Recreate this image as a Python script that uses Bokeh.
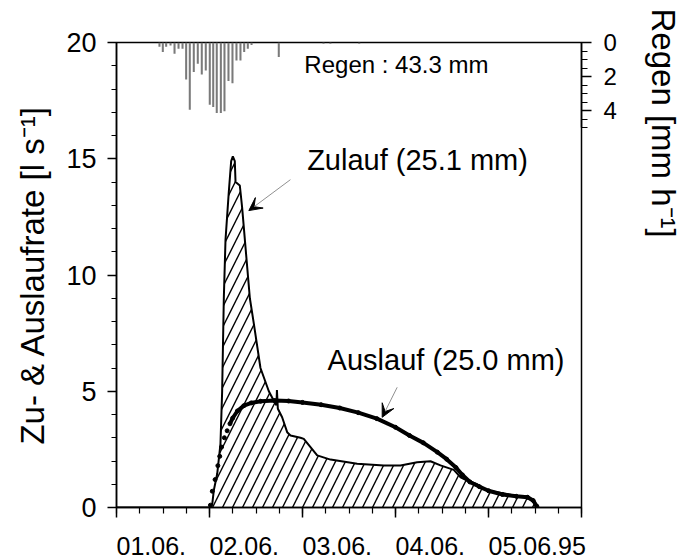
from bokeh.plotting import figure
from bokeh.models import (Range1d, LinearAxis, FixedTicker, Label, Arrow, VeeHead, Title)
from bokeh.embed import file_html
from bokeh.resources import INLINE

# ---------------- data (x in days since 01.06.95 00:00) ----------------
day_ticks = [0, 1, 2, 3, 4]
day_labels = ["01.06.", "02.06.", "03.06.", "04.06.", "05.06.95"]

rain_x = [0.462, 0.498, 0.534, 0.581, 0.624, 0.667, 0.710, 0.749, 0.788, 0.831,
          0.874, 0.917, 0.960, 1.003, 1.040, 1.078, 1.122, 1.161, 1.204, 1.247,
          1.290, 1.333, 1.373, 1.412, 1.452, 1.745, 2.226, 2.300, 2.610]
rain_mm_h = [0.25, 0.56, 0.25, 0.18, 0.66, 0.37, 0.37, 2.17, 3.96, 1.74,
             1.25, 1.88, 1.65, 3.66, 3.80, 4.14, 4.14, 4.04, 2.27, 2.39,
             1.06, 1.06, 0.56, 0.37, 0.14, 0.86, 0.08, 0.08, 0.08]

zulauf_x = [0.0, 1.00, 1.03, 1.046, 1.083, 1.118, 1.136, 1.154, 1.172, 1.208,
            1.233, 1.251, 1.272, 1.28, 1.326, 1.351, 1.387, 1.434, 1.477, 1.548,
            1.638, 1.71, 1.72, 1.725, 1.735, 1.781, 1.835, 1.871, 1.978, 2.014,
            2.086, 2.158, 2.301, 2.588, 2.874, 3.054, 3.233, 3.376, 3.484, 3.627,
            3.70, 3.771, 3.878, 3.986, 4.237, 4.272, 4.416, 4.487, 4.523]
zulauf_q = [0.0, 0.0, 0.16, 0.73, 1.45, 2.74, 5.0, 9.0, 11.5, 13.6,
            14.9, 15.1, 14.9, 14.0, 13.85, 12.9, 11.2, 9.0, 7.9, 6.0,
            5.0, 4.45, 4.4, 5.05, 4.25, 3.88, 3.24, 3.1, 3.0, 2.95,
            2.6, 2.24, 2.06, 1.88, 1.81, 1.81, 1.95, 1.99, 1.81, 1.62,
            1.3, 1.16, 1.0, 0.73, 0.55, 0.49, 0.46, 0.23, 0.0]

auslauf_x = [1.01, 1.03, 1.06, 1.09, 1.11, 1.13, 1.16, 1.19, 1.22, 1.25,
             1.30, 1.37, 1.45, 1.55, 1.70, 1.85, 2.00, 2.20, 2.40, 2.60,
             2.80, 3.00, 3.15, 3.30, 3.45, 3.55, 3.65, 3.72, 3.80, 3.90,
             4.00, 4.15, 4.30, 4.42, 4.48, 4.52]
auslauf_q = [0.1, 0.7, 1.2, 1.8, 2.2, 2.6, 3.0, 3.3, 3.6, 3.85,
             4.15, 4.38, 4.5, 4.57, 4.6, 4.58, 4.52, 4.42, 4.28, 4.08,
             3.82, 3.45, 3.1, 2.78, 2.38, 2.08, 1.72, 1.4, 1.1, 0.9,
             0.72, 0.56, 0.48, 0.44, 0.3, 0.05]

FONT = "Liberation Sans"
FRAME_W = 465
XSPAN = 5.0
XTICK_PX = 25

p = figure(frame_width=FRAME_W, frame_height=465, width=687, height=560,
           min_border_left=116, min_border_right=106, min_border_top=42,
           min_border_bottom=53, x_range=Range1d(0, XSPAN), y_range=Range1d(0, 20),
           output_backend="svg", toolbar_location=None, background_fill_color="white")
p.xgrid.visible = False
p.ygrid.visible = False
p.outline_line_color = "black"
p.outline_line_width = 1.5

# rain range: 0 at top, reversed
p.extra_y_ranges = {"rain": Range1d(27.35, 0)}

# ---- bottom axis: ticks only ----
xa = p.xaxis[0]
xa.ticker = FixedTicker(ticks=[0, 1, 2, 3, 4, 5],
                        minor_ticks=[i * 0.25 for i in range(21)])
xa.major_label_overrides = {i: "" for i in range(6)}
xa.major_label_text_font_size = "1px"
xa.major_label_standoff = 0

# ---- bottom axis: labels, left-aligned at each day tick ----
def em_width(s):
    return sum(0.278 if c == "." else 0.556 for c in s)

lab_pos = [round(t + em_width(s) * XTICK_PX / 2 / (FRAME_W / XSPAN), 4)
           for t, s in zip(day_ticks, day_labels)]
xl = LinearAxis(ticker=FixedTicker(ticks=lab_pos, minor_ticks=[]),
                major_label_overrides={v: s for v, s in zip(lab_pos, day_labels)},
                axis_line_color=None, major_tick_line_color=None,
                minor_tick_line_color=None, major_tick_out=0, major_tick_in=0,
                minor_tick_out=0, minor_tick_in=0, major_label_standoff=19,
                major_label_text_font=FONT, major_label_text_font_size=f"{XTICK_PX}px",
                major_label_text_color="black")
p.add_layout(xl, "below")

ya = p.yaxis[0]
ya.ticker = FixedTicker(ticks=[0, 5, 10, 15, 20], minor_ticks=list(range(21)))
ya.axis_label = "Zu- & Auslaufrate [l s\u207b\u00b9]"
ya.major_label_text_font_size = "27px"
ya.major_label_standoff = 11
ya.axis_label_standoff = 12
ya.axis_label_text_font_size = "33px"

ra = LinearAxis(y_range_name="rain", bounds=(0, 5),
                ticker=FixedTicker(ticks=[0, 2, 4], minor_ticks=[i * 0.5 for i in range(11)]))
p.add_layout(ra, "right")
ra.major_label_text_font_size = "24px"
ra.major_label_standoff = 12

for ax in (xa, ya, ra):
    ax.axis_line_width = 1.5
    ax.major_tick_line_width = 1.5
    ax.minor_tick_line_width = 1.2
    ax.major_tick_out = 9
    ax.major_tick_in = 0
    ax.minor_tick_out = 5
    ax.minor_tick_in = 0
    ax.major_label_text_font = FONT
    ax.major_label_text_color = "black"
    ax.axis_label_text_font = FONT
    ax.axis_label_text_font_style = "normal"
    ax.axis_label_text_color = "black"
ra.major_tick_out = 10
ra.minor_tick_out = 6
xa.major_tick_out = 10
xa.minor_tick_out = 6

# right axis title, starting near the top like the original
rt = Title(text="Regen [mm h\u207b\u00b9]", align="left", text_font=FONT,
           text_font_size="33px", text_font_style="normal", text_color="black",
           standoff=50, offset=-34)
p.add_layout(rt, "right")

# ---- rain bars ----
p.vbar(x=rain_x, width=0.022, top=0, bottom=rain_mm_h, y_range_name="rain",
       fill_color="#7a7a7a", line_color=None)

# ---- Zulauf hatched area ----
p.varea(x=zulauf_x, y1=0, y2=zulauf_q, fill_alpha=0, hatch_pattern="/",
        hatch_scale=20, hatch_weight=1.4, hatch_color="black")
p.line(zulauf_x, zulauf_q, line_color="black", line_width=2)

# ---- Auslauf dots ----
ax_line = [x for x in auslauf_x if x >= 1.22]
aq_line = [q for x, q in zip(auslauf_x, auslauf_q) if x >= 1.22]
p.line(ax_line, aq_line, line_color="black", line_width=4)
p.scatter(auslauf_x, auslauf_q, size=4, marker="circle", fill_color="black", line_color="black")

# ---- annotations ----
for txt, x, y, fs in [("Regen : 43.3 mm", 2.02, 19.05, "24px"),
                      ("Zulauf (25.1 mm)", 2.05, 14.95, "29px"),
                      ("Auslauf (25.0 mm)", 2.27, 6.35, "29px")]:
    p.add_layout(Label(x=x, y=y, text=txt, text_font=FONT, text_font_size=fs,
                       text_baseline="middle", text_align="left", text_color="black"))

p.add_layout(Arrow(end=VeeHead(size=13, fill_color="black", line_color="black"),
                   x_start=1.87, y_start=14.1, x_end=1.423, y_end=12.77,
                   line_color="#909090", line_width=1))
p.add_layout(Arrow(end=VeeHead(size=13, fill_color="black", line_color="black"),
                   x_start=3.018, y_start=5.17, x_end=2.857, y_end=3.88,
                   line_color="#909090", line_width=1))

open("out.html", "w").write(file_html(p, INLINE))
